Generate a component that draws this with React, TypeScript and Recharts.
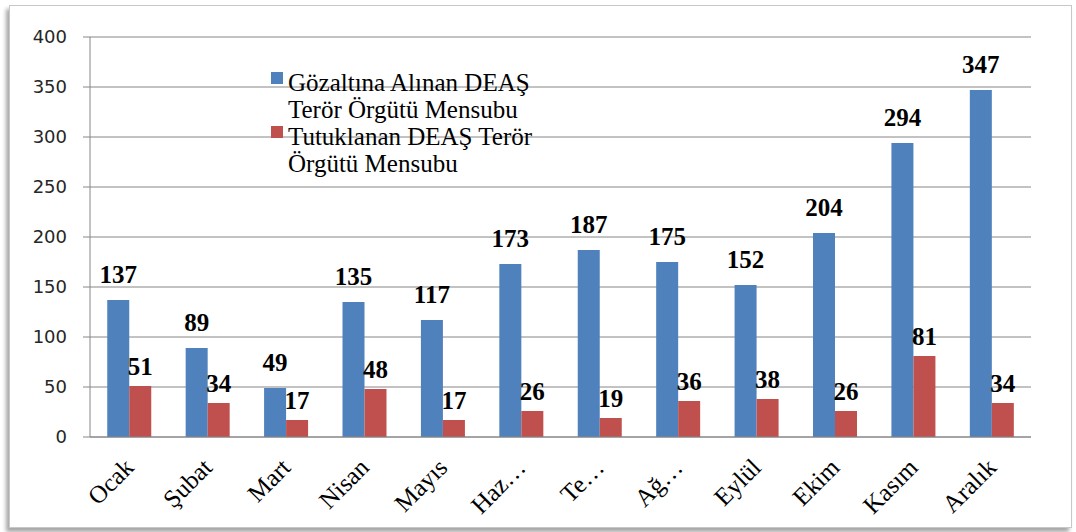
import React from 'react';
import { BarChart, Bar, XAxis, YAxis, CartesianGrid, LabelList, Legend } from 'recharts';

const months = ['Ocak', 'Şubat', 'Mart', 'Nisan', 'Mayıs', 'Haz…', 'Te…', 'Ağ…', 'Eylül', 'Ekim', 'Kasım', 'Aralık'];
const detained = [137, 89, 49, 135, 117, 173, 187, 175, 152, 204, 294, 347];
const arrested = [51, 34, 17, 48, 17, 26, 19, 36, 38, 26, 81, 34];
const seriesNames = ['Gözaltına Alınan DEAŞ Terör Örgütü Mensubu', 'Tutuklanan DEAŞ Terör Örgütü Mensubu'];
const yTicks = [0, 50, 100, 150, 200, 250, 300, 350, 400];
const boundaryTicks = [0, 1, 2, 3, 4, 5, 6, 7, 8, 9, 10, 11, 12];

const data = months.map((m, i) => ({ month: m, detained: detained[i], arrested: arrested[i] }));

const BLUE = '#4F81BD';
const RED = '#C0504D';
const AXIS = '#868686';
const SERIF = "'Liberation Serif', Tinos, 'DejaVu Serif', 'Noto Serif', serif";

const MonthTick = (props: any) => {
  const { x, y, payload } = props;
  const ax = x + 6;
  const ay = y + 32;
  return (
    <text
      x={ax}
      y={ay}
      transform={`rotate(-45 ${ax} ${ay})`}
      textAnchor="end"
      style={{ fontFamily: SERIF, fontSize: 25 }}
      fill="#000"
    >
      {payload.value}
    </text>
  );
};

const LegendContent = (props: any) => {
  const { payload } = props;
  return (
    <div style={{ fontFamily: SERIF, fontSize: 25, lineHeight: '27px', color: '#000' }}>
      {(payload || []).map((p: any, i: number) => (
        <div key={i} style={{ position: 'relative', paddingLeft: 20, width: 258 }}>
          <span
            style={{
              position: 'absolute',
              left: 3,
              top: 3,
              width: 12,
              height: 12,
              background: p.color,
            }}
          />
          <span>{p.value}</span>
        </div>
      ))}
    </div>
  );
};

const labelStyle = { fontFamily: SERIF, fontSize: 25, fontWeight: 'bold' as const, fill: '#000' };

export default function App() {
  return (
    <div style={{ position: 'absolute', left: 0, top: 0, width: 1076, height: 532, background: '#fff', overflow: 'hidden' }}>
      <div
        style={{
          position: 'absolute',
          left: 9,
          top: 5,
          width: 1061,
          height: 521,
          border: '1px solid #c8c8c8',
          boxShadow: '-3px 4px 4px rgba(0,0,0,0.35)',
          background: '#fff',
        }}
      />
      <div style={{ position: 'absolute', left: 0, top: 0 }}>
        <BarChart
          width={1076}
          height={532}
          data={data}
          margin={{ top: 37, right: 45, left: 0, bottom: 35 }}
          barCategoryGap="22%"
          barGap={0}
        >
          <CartesianGrid vertical={false} stroke={AXIS} strokeWidth={1} />
          <XAxis
            xAxisId="bounds"
            type="number"
            domain={[0, 12]}
            ticks={boundaryTicks}
            height={0}
            axisLine={false}
            tickSize={8}
            tickLine={{ stroke: AXIS }}
            tick={() => <g />}
            allowDataOverflow
          />
          <XAxis
            dataKey="month"
            height={60}
            axisLine={{ stroke: AXIS }}
            tickLine={false}
            tickSize={0}
            tickMargin={0}
            interval={0}
            tick={<MonthTick />}
          />
          <YAxis
            width={90}
            domain={[0, 400]}
            ticks={yTicks}
            interval={0}
            axisLine={{ stroke: AXIS }}
            tickLine={{ stroke: AXIS }}
            tickSize={7}
            tickMargin={16}
            tick={{ fill: '#262626', fontSize: 18, fontFamily: "'DejaVu Sans', sans-serif" }}
          />
          <Legend
            layout="vertical"
            align="center"
            verticalAlign="middle"
            content={<LegendContent />}
            wrapperStyle={{ position: 'absolute', left: 268, top: 69, width: 300, height: 110 }}
          />
          <Bar dataKey="detained" name={seriesNames[0]} fill={BLUE} isAnimationActive={false}>
            <LabelList dataKey="detained" position="top" offset={17} style={labelStyle} />
          </Bar>
          <Bar dataKey="arrested" name={seriesNames[1]} fill={RED} isAnimationActive={false}>
            <LabelList dataKey="arrested" position="top" offset={11} style={labelStyle} />
          </Bar>
        </BarChart>
      </div>
    </div>
  );
}
